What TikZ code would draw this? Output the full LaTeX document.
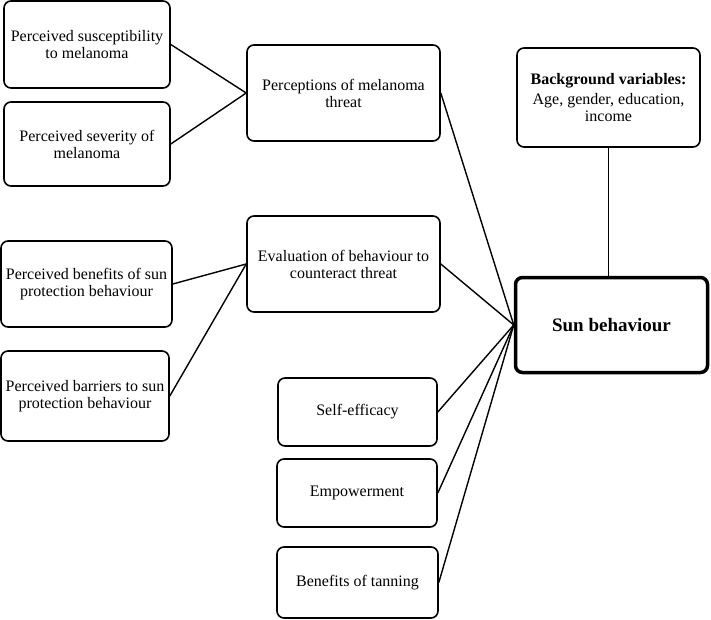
\documentclass[tikz,border=0pt]{standalone}
\usepackage{fontspec}
\setmainfont{Liberation Serif}
\usepackage{tikz}

\begin{document}
\begin{tikzpicture}[x=1pt, y=-1pt,
  box/.style={draw, rounded corners=7pt, line width=1.6pt, align=center, inner sep=2pt,
    font=\fontsize{16}{17}\selectfont},
  link/.style={line width=1.4pt}]

\useasboundingbox (0,0) rectangle (711,620);

\node[box, minimum width=166pt, minimum height=87pt] (sus) at (87,44.5) {Perceived susceptibility\\to melanoma};
\node[box, minimum width=166pt, minimum height=84pt] (sev) at (87,144) {Perceived severity of\\melanoma};
\node[box, minimum width=193pt, minimum height=96pt] (threat) at (343.5,93) {Perceptions of melanoma\\threat};

\node[box, minimum width=171pt, minimum height=86pt] (ben) at (86.5,284) {Perceived benefits of sun\\protection behaviour};
\node[box, minimum width=168pt, minimum height=90pt] (bar) at (85,396) {Perceived barriers to sun\\protection behaviour};
\node[box, minimum width=193pt, minimum height=96pt] (eval) at (343.5,264) {Evaluation of behaviour to\\counteract threat};

\node[box, minimum width=183pt, minimum height=99pt] (bg) at (608.5,97.5) {\textbf{Background variables:}\\[3pt]Age, gender, education,\\income};
\node[box, minimum width=192pt, minimum height=95pt, line width=3.5pt, font=\fontsize{19}{21}\selectfont\bfseries] (sun) at (611.5,325) {Sun behaviour};

\node[box, minimum width=159pt, minimum height=68pt] (self) at (357.5,412) {Self-efficacy};
\node[box, minimum width=160pt, minimum height=68pt] (emp) at (357,493) {Empowerment};
\node[box, minimum width=161pt, minimum height=71pt] (tan) at (357.5,582.5) {Benefits of tanning};

\draw[link] (sus.east) -- (threat.west);
\draw[link] (sev.east) -- (threat.west);
\draw[link] (ben.east) -- (eval.west);
\draw[link] (bar.east) -- (eval.west);

\draw[link] (threat.east) -- (sun.west);
\draw[link] (eval.east) -- (sun.west);
\draw[link] (self.east) -- (sun.west);
\draw[link] (emp.east) -- (sun.west);
\draw[link] (tan.east) -- (sun.west);
\draw[link] (bg.south) -- (bg.south |- sun.north);
\end{tikzpicture}
\end{document}
